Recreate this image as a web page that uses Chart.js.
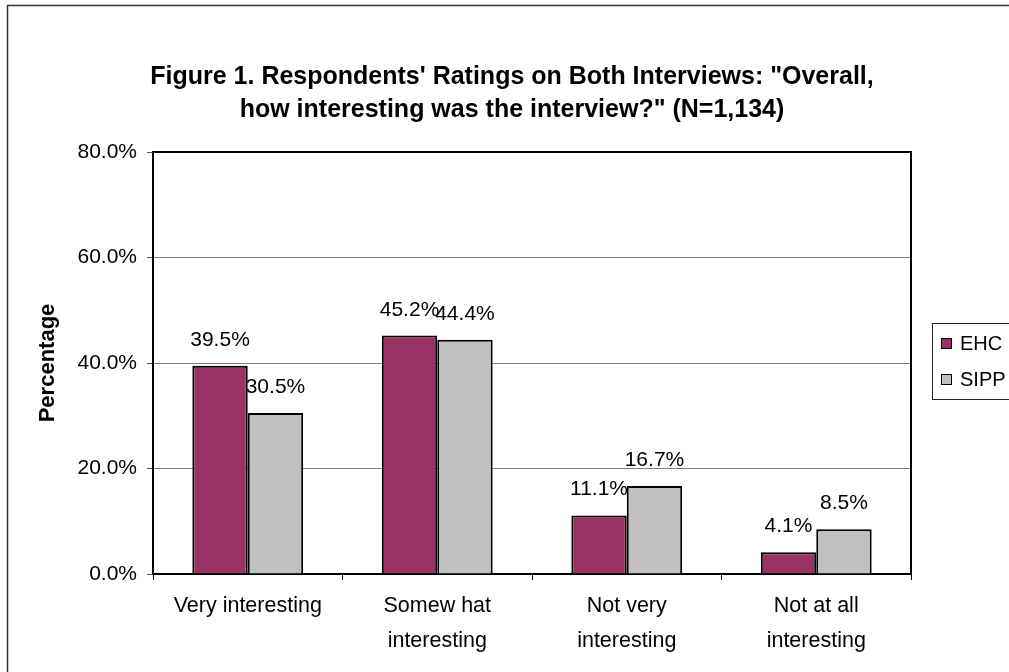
<!DOCTYPE html>
<html><head><meta charset="utf-8">
<script src="https://cdn.jsdelivr.net/npm/chart.js@4.4.1/dist/chart.umd.min.js"></script>
<style>html,body{margin:0;padding:0;background:#fff;} canvas{display:block;}</style>
</head><body>
<canvas id="c" width="1009" height="672"></canvas>
<script>
const titleLines = ['Figure 1. Respondents\' Ratings on Both Interviews: "Overall,', 'how interesting was the interview?" (N=1,134)'];
const categories = [["Very interesting"], ["Somew hat", "interesting"], ["Not very", "interesting"], ["Not at all", "interesting"]];
const seriesNames = ["EHC", "SIPP"];
const ehcValues = [39.5, 45.2, 11.1, 4.1];
const sippValues = [30.5, 44.4, 16.7, 8.5];
const yMin = 0, yMax = 80, yStep = 20;
const yAxisTitle = "Percentage";
const seriesColors = ["#993366", "#C0C0C0"];

const FONT = 'Arial, "Liberation Sans", sans-serif';
Chart.defaults.font.family = FONT;
Chart.defaults.color = '#000';

const decorPlugin = {
  id: 'decor',
  afterDatasetsDraw(chart) {
    const ctx = chart.ctx;
    ctx.save();
    ctx.font = '21px ' + FONT;
    ctx.fillStyle = '#000';
    ctx.textAlign = 'center';
    ctx.textBaseline = 'alphabetic';
    chart.data.datasets.forEach((ds, di) => {
      const meta = chart.getDatasetMeta(di);
      meta.data.forEach((el, i) => {
        ctx.fillText(ds.data[i].toFixed(1) + '%', el.x, el.y - 20);
      });
    });
    ctx.restore();
  },
  afterDraw(chart) {
    const ctx = chart.ctx;
    const a = chart.chartArea;
    ctx.save();
    ctx.strokeStyle = '#000';
    ctx.lineWidth = 2;
    ctx.beginPath();
    ctx.moveTo(a.left - 1, a.top);
    ctx.lineTo(a.right + 1, a.top);
    ctx.stroke();
    ctx.strokeStyle = '#333';
    ctx.lineWidth = 1.5;
    ctx.beginPath();
    ctx.moveTo(7.5, 680);
    ctx.lineTo(7.5, 5.5);
    ctx.lineTo(1020, 5.5);
    ctx.stroke();
    ctx.strokeStyle = '#222';
    ctx.lineWidth = 1;
    ctx.strokeRect(932.5, 323.5, 90, 76);
    ctx.font = '20px ' + FONT;
    ctx.textAlign = 'left';
    ctx.textBaseline = 'middle';
    chart.data.datasets.forEach((ds, di) => {
      const y = 338 + di * 36;
      ctx.fillStyle = ds.backgroundColor;
      ctx.fillRect(941, y, 11, 11);
      ctx.strokeStyle = '#000';
      ctx.strokeRect(941.5, y + 0.5, 10, 10);
      ctx.fillStyle = '#000';
      ctx.fillText(ds.label, 960, y + 6);
    });
    ctx.restore();
  }
};

new Chart(document.getElementById('c'), {
  type: 'bar',
  data: {
    labels: categories,
    datasets: [
      { label: seriesNames[0], data: ehcValues, backgroundColor: seriesColors[0], borderColor: '#000', borderWidth: 2, yAxisID: 'y' },
      { label: seriesNames[1], data: sippValues, backgroundColor: seriesColors[1], borderColor: '#000', borderWidth: 2, yAxisID: 'y' }
    ]
  },
  options: {
    responsive: false,
    animation: false,
    devicePixelRatio: 1,
    layout: { padding: { left: 15, right: 0, top: 0, bottom: 0 } },
    datasets: { bar: { categoryPercentage: 0.585, barPercentage: 1.0 } },
    plugins: {
      legend: { display: false },
      tooltip: { enabled: false },
      title: {
        display: true,
        text: titleLines,
        color: '#000',
        font: { size: 25, weight: 'bold', family: FONT, lineHeight: 1.32 },
        padding: { top: 60.5, bottom: 25.5 }
      }
    },
    scales: {
      x: {
        grid: { offset: true, drawOnChartArea: false, drawTicks: true, tickLength: 6, color: '#000' },
        border: { color: '#000', width: 2 },
        ticks: { font: { size: 21.5, lineHeight: 1.65 }, color: '#000', padding: 8, maxRotation: 0, autoSkip: false },
        afterFit(s) { s.height = 98; }
      },
      y: {
        min: yMin, max: yMax,
        ticks: { stepSize: yStep, callback: v => Number(v).toFixed(1) + '%', font: { size: 21 }, color: '#000', padding: 10 },
        grid: { color: '#808080', tickLength: 6, tickColor: '#555' },
        border: { color: '#000', width: 2 },
        title: { display: true, text: yAxisTitle, color: '#000', font: { size: 22, weight: 'bold' }, padding: { top: 20, bottom: 0 } },
        afterFit(s) { s.width = 138; }
      },
      y2: {
        position: 'right',
        min: yMin, max: yMax,
        ticks: { display: false },
        grid: { drawOnChartArea: false, drawTicks: false },
        border: { color: '#000', width: 2 },
        afterFit(s) { s.width = 98; }
      }
    }
  },
  plugins: [decorPlugin]
});
</script>
</body></html>
